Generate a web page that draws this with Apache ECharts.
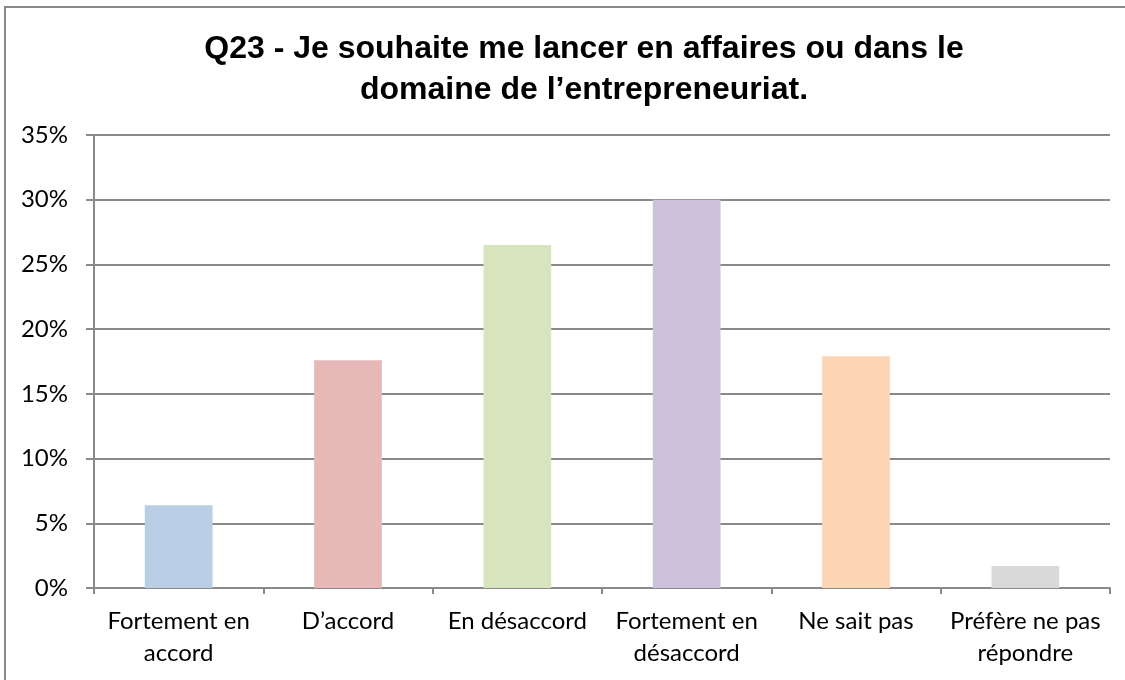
<!DOCTYPE html>
<html>
<head>
<meta charset="utf-8">
<script src="https://cdn.jsdelivr.net/npm/echarts@6/dist/echarts.min.js"></script>
<style>
    html, body { margin: 0; padding: 0; background: #fff; }
    #frame { position: absolute; left: 4px; top: 6px; width: 1125px; height: 680px;
             border-left: 2px solid #8a8a8a; border-top: 2px solid #8a8a8a; }
    #main { position: absolute; left: 0; top: 0; width: 1125px; height: 680px; }
</style>
</head>
<body>
<div id="frame"></div>
<div id="main"></div>
<script>
// categories and values (percent)
var categories = ['Fortement en\naccord', 'D\u2019accord', 'En d\u00e9saccord', 'Fortement en\nd\u00e9saccord', 'Ne sait pas', 'Pr\u00e9f\u00e8re ne pas\nr\u00e9pondre'];
var values = [6.4, 17.6, 26.5, 30.0, 17.9, 1.7];
var barColors = ['#b9cde5', '#e6b9b8', '#d7e4bd', '#ccc1da', '#fcd5b5', '#d9d9d9'];

var chartDom = document.getElementById('main');
var myChart = echarts.init(chartDom);

var option = {
    animation: false,
    title: {
        text: 'Q23 - Je souhaite me lancer en affaires ou dans le\ndomaine de l\u2019entrepreneuriat.',
        left: 579,
        textAlign: 'center',
        top: 24,
        textStyle: {
            fontFamily: 'Liberation Sans, Arial',
            fontWeight: 'bold',
            fontSize: 32,
            lineHeight: 41,
            color: '#000'
        }
    },
    grid: { left: 94, right: 15, top: 135, bottom: 92 },
    xAxis: {
        type: 'category',
        data: categories,
        axisLine: { lineStyle: { color: '#8a8a8a', width: 2 } },
        axisTick: { show: true, length: 6, lineStyle: { color: '#8a8a8a', width: 2 } },
        axisLabel: {
            color: '#000',
            fontFamily: 'Lato, Liberation Sans',
            fontSize: 24,
            lineHeight: 32,
            margin: 17,
            interval: 0,
            overflow: 'none'
        }
    },
    yAxis: {
        type: 'value',
        min: 0,
        max: 35,
        interval: 5,
        axisLine: { show: true, lineStyle: { color: '#8a8a8a', width: 2 } },
        axisTick: { show: true, length: 8, lineStyle: { color: '#8a8a8a', width: 2 } },
        splitLine: { lineStyle: { color: '#8a8a8a', width: 2 } },
        axisLabel: {
            formatter: '{value}%',
            color: '#000',
            fontFamily: 'Lato, Liberation Sans',
            fontSize: 24,
            margin: 26
        }
    },
    series: [
        {
            type: 'bar',
            barWidth: '40%',
            data: values.map(function (v, i) {
                return { value: v, itemStyle: { color: barColors[i] } };
            })
        }
    ]
};

myChart.setOption(option);
</script>
</body>
</html>
